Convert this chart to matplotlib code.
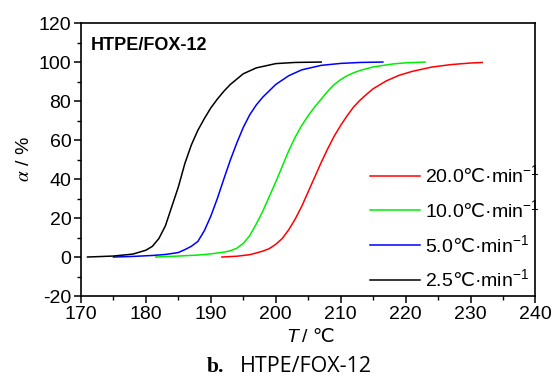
import matplotlib
matplotlib.use("Agg")
import matplotlib.pyplot as plt
from matplotlib.ticker import MultipleLocator

# ---------------- data ----------------
t_20 = [191.7, 194, 196, 198, 199, 200, 201, 202, 203, 204, 205, 206, 207, 208, 209, 210,
        211, 212, 213, 214, 215, 217, 219, 221, 224, 227, 230, 231.8]
a_20 = [0, 0.4, 1.2, 3, 4.3, 6.5, 9.5, 14, 19.5, 26, 33.5, 41, 48.5, 55.5, 62, 67.5,
        72.5, 77, 80.5, 83.5, 86.3, 90.3, 93.2, 95.2, 97.4, 98.7, 99.5, 99.8]

t_10 = [181.5, 185, 188, 190, 192, 193, 194, 195, 196, 197, 198, 199, 200, 201, 202, 203,
        204, 205, 206, 207, 208, 209, 210, 211, 212, 213, 215, 218, 220, 223]
a_10 = [0, 0.5, 1, 1.6, 2.5, 3.2, 4.5, 7, 11, 17, 23.5, 31, 38.5, 46.5, 54.5, 61.5,
        67.5, 72.5, 77, 81, 85, 88.5, 91, 93, 94.5, 95.7, 97.5, 99, 99.6, 100]

t_5 = [175, 178, 181, 183, 185, 186, 187, 188, 189, 190, 191, 192, 193, 194, 195, 196,
       197, 198, 200, 202, 204, 207, 210, 213, 216.5]
a_5 = [0, 0.3, 0.8, 1.3, 2.3, 3.8, 5.5, 8, 13.5, 21, 30, 40, 49.7, 58.5, 66.5, 73,
       78, 82, 88.5, 93, 96, 98.3, 99.3, 99.8, 100]

t_25 = [171, 175, 178, 180, 181, 182, 183, 184, 185, 186, 187, 188, 189, 190, 191, 192,
        193, 195, 197, 200, 203, 207]
a_25 = [0, 0.5, 1.5, 3.5, 5.5, 9.5, 16, 26, 36, 48, 57.5, 65, 71, 76.5, 81, 85,
        88.5, 94, 97, 99.2, 99.8, 100]

series_labels = [r"20.0$\mathsf{℃}$·min$^{-1}$", r"10.0$\mathsf{℃}$·min$^{-1}$",
                 r"5.0$\mathsf{℃}$·min$^{-1}$", r"2.5$\mathsf{℃}$·min$^{-1}$"]
series_colors = ["#ff0000", "#00ee00", "#0000ff", "#000000"]
x_ticks = [170, 180, 190, 200, 210, 220, 230, 240]
y_ticks = [-20, 0, 20, 40, 60, 80, 100, 120]

# ---------------- fonts ----------------
main_font = "Liberation Sans"
fs = 14
plt.rcParams["font.family"] = [main_font, "DejaVu Sans"]
plt.rcParams["axes.unicode_minus"] = False
plt.rcParams["mathtext.fontset"] = "custom"
plt.rcParams["mathtext.rm"] = main_font
plt.rcParams["mathtext.it"] = main_font + ":italic"
plt.rcParams["mathtext.bf"] = main_font + ":bold"
plt.rcParams["mathtext.sf"] = "DejaVu Sans"

fig = plt.figure(figsize=(5.56, 3.78), dpi=100)
ax = fig.add_axes([0.1457, 0.2169, 0.963 - 0.1457, 0.939 - 0.2169])

xs = [t_20, t_10, t_5, t_25]
ys = [a_20, a_10, a_5, a_25]
for x, y, c, lab in zip(xs, ys, series_colors, series_labels):
    ax.plot(x, y, color=c, lw=1.1, label=lab)

ax.set_xlim(170, 240)
ax.set_ylim(-20, 120)
ax.set_xticks(x_ticks)
ax.set_yticks(y_ticks)
ax.xaxis.set_minor_locator(MultipleLocator(5))
ax.yaxis.set_minor_locator(MultipleLocator(10))
ax.tick_params(which="major", direction="out", length=5, width=1.1, labelsize=fs, pad=2)
ax.tick_params(which="minor", direction="out", length=3, width=1.0)
for s in ax.spines.values():
    s.set_linewidth(1.2)

# x label built from two pieces: italic T and "/ ℃"
ylab = 1 - 337 / 378
fig.text(298 / 556, ylab, "T", fontsize=fs, style="italic", ha="right", va="center")
fig.text(302 / 556, ylab, "/ ℃", fontsize=fs, ha="left", va="center")
ax.set_ylabel(r"$\alpha$ / %", fontsize=fs, labelpad=4, math_fontfamily="stix")

ax.text(0.022, 0.916, "HTPE/FOX-12", transform=ax.transAxes, fontsize=13,
        fontweight="bold", va="center", ha="left")

leg = ax.legend(loc="lower left", bbox_to_anchor=(0.636, 0.02), frameon=False,
                fontsize=fs, handlelength=2.58, handletextpad=0.26, labelspacing=0.66,
                borderaxespad=0, borderpad=0)

cap_y = 1 - 372 / 378
fig.text(207 / 556, cap_y, "b.", fontsize=15.5, fontweight="bold",
         family=["Liberation Serif", "DejaVu Serif"], ha="left", va="baseline")
fig.text(240 / 556, cap_y, "HTPE/FOX-12", fontsize=15.5,
         family=["Open Sans", "DejaVu Sans"], ha="left", va="baseline")

fig.savefig("out.png", dpi=100)
